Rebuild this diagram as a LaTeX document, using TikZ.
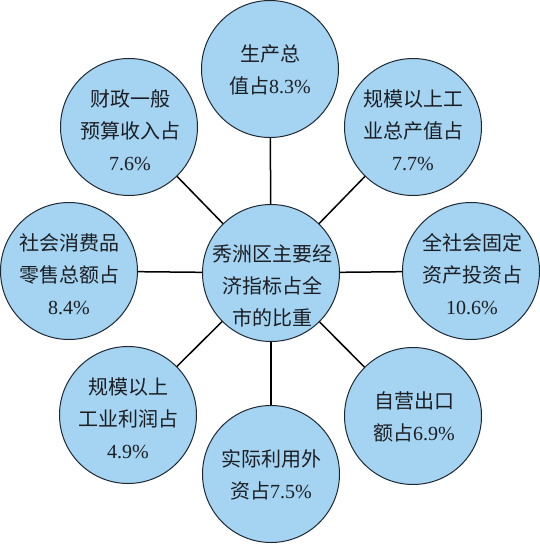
\documentclass[tikz,border=0pt]{standalone}
\usepackage{fontspec}
\setmainfont{Liberation Serif}
\newfontfamily\cjk{Noto Sans CJK SC}
\definecolor{bubble}{RGB}{164,212,242}
\definecolor{rim}{RGB}{30,40,50}
\definecolor{ink}{RGB}{28,30,34}
\begin{document}
\begin{tikzpicture}[x=1pt,y=-1pt,
  bubblebox/.style={circle,draw=rim,line width=1pt,fill=bubble,minimum size=137pt,inner sep=0pt},
  labeltext/.style={align=center,text=ink,inner sep=0pt,font=\fontsize{20}{32}\selectfont},
  link/.style={draw=black,line width=1.5pt}]
\useasboundingbox (0,0) rectangle (539,545);
% circles
\node[bubblebox] (c)  at (271,273) {};
\node[bubblebox] (t)  at (270,69) {};
\node[bubblebox] (tl) at (129,127) {};
\node[bubblebox] (tr) at (413,127) {};
\node[bubblebox] (l)  at (69,271) {};
\node[bubblebox] (r)  at (471,271) {};
\node[bubblebox] (bl) at (128,415) {};
\node[bubblebox] (b)  at (271,474) {};
\node[bubblebox] (br) at (413,416) {};
% connectors
\foreach \n in {t,tl,tr,l,r,bl,b,br} \draw[link] (c) -- (\n);
% labels
\node[labeltext] (ct)  at (272,286) {{\cjk 秀洲区主要经}\\{\cjk 济指标占全}\\{\cjk 市的比重}};
\node[labeltext] (tt)  at (270,70) {{\cjk 生产总}\\{\cjk 值占}8.3\%};
\node[labeltext] (tlt) at (130,130) {{\cjk 财政一般}\\{\cjk 预算收入占}\\7.6\%};
\node[labeltext] (trt) at (413,130) {{\cjk 规模以上工}\\{\cjk 业总产值占}\\7.7\%};
\node[labeltext] (lt)  at (69,274) {{\cjk 社会消费品}\\{\cjk 零售总额占}\\8.4\%};
\node[labeltext] (rt)  at (472,274) {{\cjk 全社会固定}\\{\cjk 资产投资占}\\10.6\%};
\node[labeltext] (blt) at (128,418) {{\cjk 规模以上}\\{\cjk 工业利润占}\\4.9\%};
\node[labeltext] (bt)  at (271,475) {{\cjk 实际利用外}\\{\cjk 资占}7.5\%};
\node[labeltext] (brt) at (414,417) {{\cjk 自营出口}\\{\cjk 额占}6.9\%};
\end{tikzpicture}
\end{document}
